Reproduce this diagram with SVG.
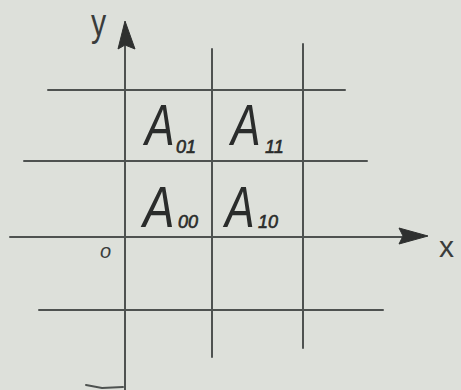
<svg xmlns="http://www.w3.org/2000/svg" width="461" height="390" viewBox="0 0 461 390">
<style>
.ln{stroke:#4e5250;stroke-width:2;fill:none;stroke-linecap:round}
.ah{fill:#2e302f;stroke:#2e302f;stroke-width:1;stroke-linejoin:round}
.big{font-family:"Liberation Sans",Arial,sans-serif;font-style:italic;font-size:57px;fill:#2a2c2b}
.sub{font-family:"Liberation Sans",Arial,sans-serif;font-style:italic;font-size:18px;fill:#2a2c2b;stroke:#2a2c2b;stroke-width:0.6}
.lab{font-family:"Liberation Sans",Arial,sans-serif;fill:#3a3c3b}
</style>
<rect width="461" height="390" fill="#dde0da"/>
<g id="connectors">
<line class="ln" x1="125" y1="46" x2="125" y2="390"/>
<line class="ln" x1="212" y1="49" x2="212" y2="357"/>
<line class="ln" x1="303" y1="44" x2="303" y2="348"/>
<line class="ln" x1="48" y1="90" x2="345" y2="90"/>
<line class="ln" x1="24" y1="161" x2="367" y2="161"/>
<line class="ln" x1="10" y1="237" x2="402" y2="237"/>
<line class="ln" x1="39" y1="310" x2="383" y2="310"/>
<path class="ln" d="M86,385 L102,388 L123,387" stroke-width="1.5"/>
<polygon class="ah" points="125,21 118,49 125,45 135,49"/>
<polygon class="ah" points="428,236 399,228 403,236 399,244"/>
</g>
<g id="axis-y"><text class="lab" transform="translate(91,36) scale(0.8,1)" font-size="38">y</text></g>
<g id="axis-x"><text class="lab" x="439" y="257" font-size="30">x</text></g>
<g id="origin"><text class="lab" x="100" y="258" font-size="20" font-style="italic">o</text></g>
<g id="A01"><text class="big" transform="translate(145,145) scale(0.78,1)">A</text><text class="sub" x="176" y="153">01</text></g>
<g id="A11"><text class="big" transform="translate(231,145) scale(0.78,1)">A</text><text class="sub" x="265" y="153">11</text></g>
<g id="A00"><text class="big" transform="translate(143,227) scale(0.83,1)">A</text><text class="sub" x="178" y="228">00</text></g>
<g id="A10"><text class="big" transform="translate(225,227) scale(0.78,1)">A</text><text class="sub" x="258" y="228">10</text></g>
</svg>
